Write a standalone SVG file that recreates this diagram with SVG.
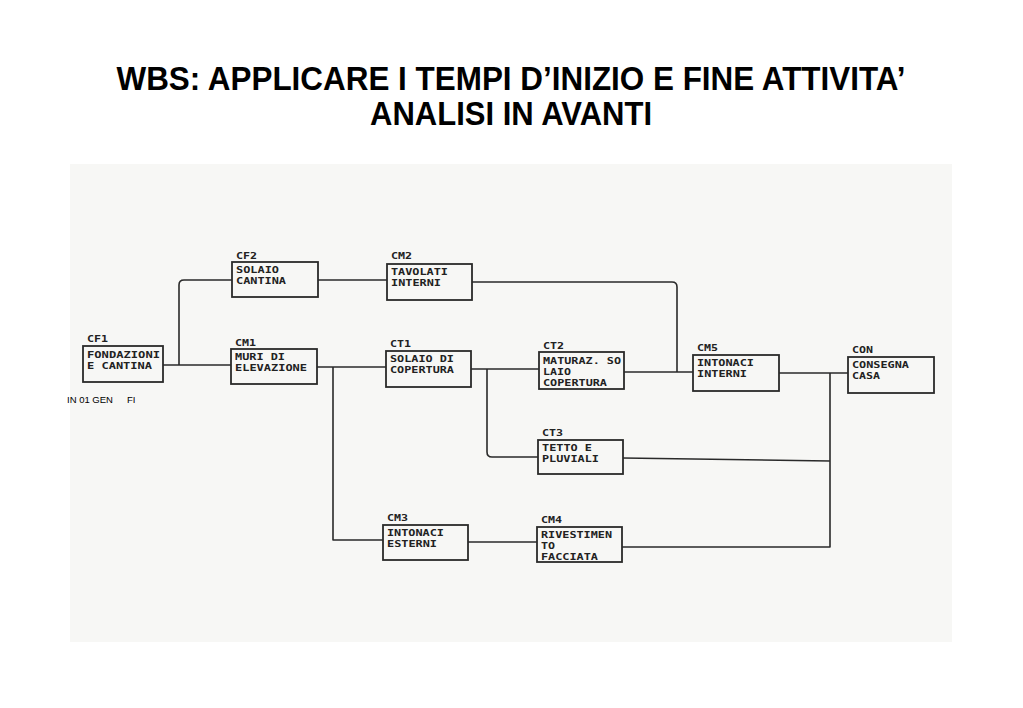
<svg xmlns="http://www.w3.org/2000/svg" width="1023" height="708" viewBox="0 0 1023 708">
<style>
.title{font-family:"Liberation Sans",Arial,sans-serif;font-weight:bold;font-size:34px;fill:#000}
.box{fill:none;stroke:#2a2a2a;stroke-width:1.8}
.lbl{font-family:"DejaVu Sans Mono","Liberation Mono",monospace;font-size:9.4px;font-weight:bold;fill:#222}
.ln{fill:none;stroke:#2a2a2a;stroke-width:1.6;stroke-linejoin:round}
.note{font-family:"Liberation Sans",Arial,sans-serif;font-size:9.5px;fill:#000}
</style>
<rect width="1023" height="708" fill="#ffffff"/>
<rect x="70" y="164" width="882" height="478" fill="#f7f7f5"/>
<text class="title" x="511" y="90" text-anchor="middle" textLength="789" lengthAdjust="spacingAndGlyphs">WBS: APPLICARE I TEMPI D’INIZIO E FINE ATTIVITA’</text>
<text class="title" x="511" y="125" text-anchor="middle" textLength="282" lengthAdjust="spacingAndGlyphs">ANALISI IN AVANTI</text>

<g id="connectors">
<path class="ln" d="M163 365 H231"/>
<path class="ln" d="M179 365 V285 Q179 280 184 280 H232"/>
<path class="ln" d="M318 280 H387"/>
<path class="ln" d="M317 367 H386"/>
<path class="ln" d="M333 367 V540 H383"/>
<path class="ln" d="M471 369 H539"/>
<path class="ln" d="M487 369 V452 Q487 457 492 457 H538"/>
<path class="ln" d="M472 282 H672 Q677 282 677 287 V372"/>
<path class="ln" d="M624 372 H693"/>
<path class="ln" d="M779 373 H848"/>
<path class="ln" d="M830 373 V547 H622"/>
<path class="ln" d="M623 458 L830 461"/>
<path class="ln" d="M468 542 H537"/>
</g>

<g id="CF1">
<text class="lbl" x="87" y="342" textLength="21" lengthAdjust="spacingAndGlyphs">CF1</text>
<rect class="box" x="83" y="346" width="80" height="36"/>
<text class="lbl" x="87" y="358" textLength="73" lengthAdjust="spacingAndGlyphs">FONDAZIONI</text>
<text class="lbl" x="87" y="369" textLength="65" lengthAdjust="spacingAndGlyphs">E CANTINA</text>
</g>
<g id="CF2">
<text class="lbl" x="236" y="259" textLength="21" lengthAdjust="spacingAndGlyphs">CF2</text>
<rect class="box" x="232" y="262" width="86" height="35"/>
<text class="lbl" x="236" y="273" textLength="43" lengthAdjust="spacingAndGlyphs">SOLAIO</text>
<text class="lbl" x="236" y="284" textLength="50" lengthAdjust="spacingAndGlyphs">CANTINA</text>
</g>
<g id="CM1">
<text class="lbl" x="235" y="346" textLength="21" lengthAdjust="spacingAndGlyphs">CM1</text>
<rect class="box" x="231" y="349" width="86" height="35"/>
<text class="lbl" x="235" y="360" textLength="50" lengthAdjust="spacingAndGlyphs">MURI DI</text>
<text class="lbl" x="235" y="371" textLength="72" lengthAdjust="spacingAndGlyphs">ELEVAZIONE</text>
</g>
<g id="CM2">
<text class="lbl" x="391" y="259" textLength="21" lengthAdjust="spacingAndGlyphs">CM2</text>
<rect class="box" x="387" y="264" width="85" height="36"/>
<text class="lbl" x="391" y="275" textLength="57" lengthAdjust="spacingAndGlyphs">TAVOLATI</text>
<text class="lbl" x="391" y="286" textLength="50" lengthAdjust="spacingAndGlyphs">INTERNI</text>
</g>
<g id="CT1">
<text class="lbl" x="390" y="347" textLength="21" lengthAdjust="spacingAndGlyphs">CT1</text>
<rect class="box" x="386" y="351" width="85" height="36"/>
<text class="lbl" x="390" y="362" textLength="64" lengthAdjust="spacingAndGlyphs">SOLAIO DI</text>
<text class="lbl" x="390" y="373" textLength="64" lengthAdjust="spacingAndGlyphs">COPERTURA</text>
</g>
<g id="CT2">
<text class="lbl" x="543" y="349" textLength="21" lengthAdjust="spacingAndGlyphs">CT2</text>
<rect class="box" x="539" y="352" width="85" height="37"/>
<text class="lbl" x="543" y="364" textLength="78" lengthAdjust="spacingAndGlyphs">MATURAZ. SO</text>
<text class="lbl" x="543" y="375" textLength="28" lengthAdjust="spacingAndGlyphs">LAIO</text>
<text class="lbl" x="543" y="386" textLength="64" lengthAdjust="spacingAndGlyphs">COPERTURA</text>
</g>
<g id="CM5">
<text class="lbl" x="697" y="351" textLength="21" lengthAdjust="spacingAndGlyphs">CM5</text>
<rect class="box" x="693" y="355" width="86" height="36"/>
<text class="lbl" x="697" y="366" textLength="57" lengthAdjust="spacingAndGlyphs">INTONACI</text>
<text class="lbl" x="697" y="377" textLength="50" lengthAdjust="spacingAndGlyphs">INTERNI</text>
</g>
<g id="CON">
<text class="lbl" x="852" y="353" textLength="21" lengthAdjust="spacingAndGlyphs">CON</text>
<rect class="box" x="848" y="357" width="86" height="36"/>
<text class="lbl" x="852" y="368" textLength="57" lengthAdjust="spacingAndGlyphs">CONSEGNA</text>
<text class="lbl" x="852" y="379" textLength="28" lengthAdjust="spacingAndGlyphs">CASA</text>
</g>
<g id="CT3">
<text class="lbl" x="542" y="436" textLength="21" lengthAdjust="spacingAndGlyphs">CT3</text>
<rect class="box" x="538" y="440" width="85" height="34"/>
<text class="lbl" x="542" y="451" textLength="50" lengthAdjust="spacingAndGlyphs">TETTO E</text>
<text class="lbl" x="542" y="462" textLength="57" lengthAdjust="spacingAndGlyphs">PLUVIALI</text>
</g>
<g id="CM3">
<text class="lbl" x="387" y="521" textLength="21" lengthAdjust="spacingAndGlyphs">CM3</text>
<rect class="box" x="383" y="525" width="85" height="35"/>
<text class="lbl" x="387" y="536" textLength="57" lengthAdjust="spacingAndGlyphs">INTONACI</text>
<text class="lbl" x="387" y="547" textLength="50" lengthAdjust="spacingAndGlyphs">ESTERNI</text>
</g>
<g id="CM4">
<text class="lbl" x="541" y="523" textLength="21" lengthAdjust="spacingAndGlyphs">CM4</text>
<rect class="box" x="537" y="527" width="85" height="35"/>
<text class="lbl" x="541" y="538" textLength="71" lengthAdjust="spacingAndGlyphs">RIVESTIMEN</text>
<text class="lbl" x="541" y="549" textLength="14" lengthAdjust="spacingAndGlyphs">TO</text>
<text class="lbl" x="541" y="560" textLength="57" lengthAdjust="spacingAndGlyphs">FACCIATA</text>
</g>

<text class="note" y="403"><tspan x="67">IN 01 GEN</tspan><tspan x="127">FI</tspan></text>
</svg>
